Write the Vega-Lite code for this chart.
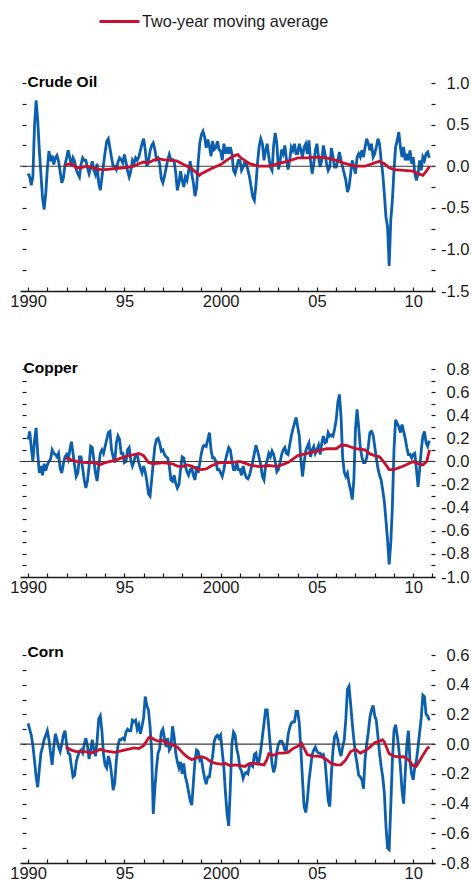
{
"$schema":"https://vega.github.io/schema/vega-lite/v6.json",
"background":"white",
"padding":{"left":9,"top":0,"right":4,"bottom":4},
"bounds":"flush",
"spacing":78,
"config":{"view":{"stroke":null},"font":"Liberation Sans","axis":{"labelFont":"Liberation Sans","labelFontSize":16.5,"labelColor":"#1a1a1a","tickColor":"#1a1a1a","domainColor":"#1a1a1a","grid":false,"title":null,"labelOverlap":false,"labelFlush":false}},
"datasets":{
"m":[
{"t":1990,"o":-0.09,"c":0.19,"n":0.14},{"t":1990.083,"o":-0.13,"c":0.26,"n":0.1},{"t":1990.167,"o":-0.23,"c":0.12,"n":0.06},{"t":1990.25,"o":-0.12,"c":0,"n":-0.01},{"t":1990.333,"o":0.48,"c":0.18,"n":-0.11},{"t":1990.417,"o":0.79,"c":0.29,"n":-0.22},{"t":1990.5,"o":0.55,"c":0.07,"n":-0.29},{"t":1990.583,"o":0.2,"c":-0.1,"n":-0.17},{"t":1990.667,"o":-0.1,"c":-0.04,"n":-0.06},{"t":1990.75,"o":-0.38,"c":-0.12,"n":-0.02},{"t":1990.833,"o":-0.52,"c":-0.02,"n":0.03},{"t":1990.917,"o":-0.33,"c":-0.08,"n":0.06},
{"t":1991,"o":-0.03,"c":-0.03,"n":0.09},{"t":1991.083,"o":0.18,"c":0,"n":0.03},{"t":1991.167,"o":0.06,"c":0.02,"n":-0.06},{"t":1991.25,"o":0.13,"c":0.1,"n":-0.14},{"t":1991.333,"o":0.02,"c":0.07,"n":-0.02},{"t":1991.417,"o":0.1,"c":0.06,"n":0.07},{"t":1991.5,"o":0.13,"c":0.04,"n":0.03},{"t":1991.583,"o":0.06,"c":0.07,"n":-0.02},{"t":1991.667,"o":-0.07,"c":-0.06,"n":-0.05},{"t":1991.75,"o":-0.2,"c":-0.1,"n":0},{"t":1991.833,"o":-0.14,"c":-0.02,"n":0.06},{"t":1991.917,"o":0.02,"c":0.04,"n":0.09},
{"t":1992,"o":0.1,"c":0.06,"n":0},{"t":1992.083,"o":0.19,"c":0.02,"n":-0.06},{"t":1992.167,"o":0.1,"c":0.1,"n":-0.07},{"t":1992.25,"o":0,"c":0.17,"n":-0.15},{"t":1992.333,"o":0.1,"c":0.07,"n":-0.22},{"t":1992.417,"o":0.06,"c":-0.04,"n":-0.21},{"t":1992.5,"o":-0.04,"c":-0.13,"n":-0.12},{"t":1992.583,"o":-0.09,"c":-0.1,"n":-0.08},{"t":1992.667,"o":-0.13,"c":0.04,"n":-0.05},{"t":1992.75,"o":0.02,"c":0.04,"n":-0.04},{"t":1992.833,"o":0.1,"c":-0.06,"n":-0.06},{"t":1992.917,"o":0.07,"c":-0.16,"n":0},
{"t":1993,"o":0.07,"c":-0.23,"n":0.04},{"t":1993.083,"o":-0.02,"c":-0.17,"n":-0.01},{"t":1993.167,"o":-0.09,"c":-0.04,"n":-0.1},{"t":1993.25,"o":-0.02,"c":0.13,"n":-0.04},{"t":1993.333,"o":0.06,"c":0.12,"n":0.03},{"t":1993.417,"o":-0.05,"c":0.01,"n":-0.04},{"t":1993.5,"o":-0.1,"c":-0.1,"n":-0.08},{"t":1993.583,"o":0.03,"c":-0.17,"n":0.02},{"t":1993.667,"o":-0.2,"c":-0.04,"n":0.17},{"t":1993.75,"o":-0.29,"c":0.07,"n":0.19},{"t":1993.833,"o":-0.14,"c":0.1,"n":0.09},{"t":1993.917,"o":0.02,"c":0.07,"n":-0.07},
{"t":1994,"o":0.17,"c":0.13,"n":-0.14},{"t":1994.083,"o":0.3,"c":0.19,"n":-0.16},{"t":1994.167,"o":0.33,"c":0.25,"n":-0.08},{"t":1994.25,"o":0.22,"c":0.26,"n":-0.12},{"t":1994.333,"o":0.1,"c":0.1,"n":-0.2},{"t":1994.417,"o":0,"c":0.04,"n":-0.31},{"t":1994.5,"o":0,"c":-0.01,"n":-0.26},{"t":1994.583,"o":-0.04,"c":0.16,"n":-0.11},{"t":1994.667,"o":0.05,"c":0.22,"n":-0.01},{"t":1994.75,"o":0.1,"c":0.19,"n":0.03},{"t":1994.833,"o":0.08,"c":0.07,"n":0.03},{"t":1994.917,"o":0.04,"c":0.07,"n":0.04},
{"t":1995,"o":0.14,"c":-0.01,"n":0.03},{"t":1995.083,"o":0.05,"c":0,"n":0.08},{"t":1995.167,"o":-0.06,"c":0.1,"n":0.1},{"t":1995.25,"o":-0.13,"c":0.12,"n":0.09},{"t":1995.333,"o":-0.06,"c":0.01,"n":0.09},{"t":1995.417,"o":0.07,"c":-0.04,"n":0.16},{"t":1995.5,"o":0.03,"c":0,"n":0.15},{"t":1995.583,"o":0.1,"c":0.06,"n":0.16},{"t":1995.667,"o":0.07,"c":0.06,"n":0.1},{"t":1995.75,"o":0.11,"c":-0.01,"n":0.13},{"t":1995.833,"o":0.19,"c":-0.06,"n":0.07},{"t":1995.917,"o":0.27,"c":-0.1,"n":0.12},
{"t":1996,"o":0.33,"c":-0.04,"n":0.18},{"t":1996.083,"o":0.2,"c":-0.09,"n":0.32},{"t":1996.167,"o":0,"c":-0.17,"n":0.26},{"t":1996.25,"o":0.06,"c":-0.28,"n":0.23},{"t":1996.333,"o":0.18,"c":-0.3,"n":0.12},{"t":1996.417,"o":0.25,"c":-0.16,"n":-0.05},{"t":1996.5,"o":0.28,"c":-0.01,"n":-0.47},{"t":1996.583,"o":0.2,"c":0.13,"n":-0.3},{"t":1996.667,"o":0.08,"c":0.19,"n":-0.16},{"t":1996.75,"o":0.1,"c":0.2,"n":-0.06},{"t":1996.833,"o":0.03,"c":0.16,"n":-0.03},{"t":1996.917,"o":-0.15,"c":0.09,"n":0.08},
{"t":1997,"o":-0.2,"c":0.1,"n":0.1},{"t":1997.083,"o":-0.12,"c":0.06,"n":0.04},{"t":1997.167,"o":-0.02,"c":0.04,"n":-0.02},{"t":1997.25,"o":0.07,"c":0.03,"n":0.04},{"t":1997.333,"o":0.14,"c":-0.04,"n":-0.04},{"t":1997.417,"o":0.07,"c":-0.16,"n":-0.02},{"t":1997.5,"o":0.08,"c":-0.17,"n":0.12},{"t":1997.583,"o":0.06,"c":-0.12,"n":0.05},{"t":1997.667,"o":-0.08,"c":-0.19,"n":-0.06},{"t":1997.75,"o":-0.29,"c":-0.23,"n":-0.12},{"t":1997.833,"o":-0.2,"c":-0.2,"n":-0.16},{"t":1997.917,"o":-0.06,"c":-0.07,"n":-0.12},
{"t":1998,"o":-0.17,"c":0.04,"n":-0.2},{"t":1998.083,"o":-0.25,"c":0.03,"n":-0.13},{"t":1998.167,"o":-0.13,"c":-0.04,"n":-0.22},{"t":1998.25,"o":-0.17,"c":-0.09,"n":-0.26},{"t":1998.333,"o":-0.06,"c":-0.12,"n":-0.32},{"t":1998.417,"o":0.06,"c":-0.07,"n":-0.38},{"t":1998.5,"o":-0.09,"c":-0.06,"n":-0.41},{"t":1998.583,"o":-0.2,"c":-0.12,"n":-0.26},{"t":1998.667,"o":-0.36,"c":-0.16,"n":-0.11},{"t":1998.75,"o":-0.26,"c":-0.04,"n":-0.04},{"t":1998.833,"o":0.05,"c":-0.1,"n":-0.05},{"t":1998.917,"o":0.28,"c":-0.01,"n":-0.11},
{"t":1999,"o":0.38,"c":0.07,"n":-0.1},{"t":1999.083,"o":0.42,"c":0.13,"n":-0.17},{"t":1999.167,"o":0.35,"c":0.14,"n":-0.23},{"t":1999.25,"o":0.22,"c":0.13,"n":-0.27},{"t":1999.333,"o":0.32,"c":0.19,"n":-0.22},{"t":1999.417,"o":0.24,"c":0.25,"n":-0.22},{"t":1999.5,"o":0.12,"c":0.1,"n":-0.14},{"t":1999.583,"o":0.3,"c":0.03,"n":-0.08},{"t":1999.667,"o":0.2,"c":0.03,"n":0.02},{"t":1999.75,"o":0.22,"c":0,"n":0.05},{"t":1999.833,"o":0.3,"c":-0.07,"n":0.06},{"t":1999.917,"o":0.2,"c":-0.07,"n":0.04},
{"t":2000,"o":0.18,"c":-0.1,"n":0.06},{"t":2000.083,"o":0.07,"c":-0.13,"n":-0.05},{"t":2000.167,"o":0.27,"c":-0.07,"n":-0.16},{"t":2000.25,"o":0.15,"c":0.01,"n":-0.33},{"t":2000.333,"o":0.23,"c":0.07,"n":-0.47},{"t":2000.417,"o":0.15,"c":0.12,"n":-0.55},{"t":2000.5,"o":0.23,"c":0.1,"n":-0.3},{"t":2000.583,"o":0.15,"c":0.01,"n":0},{"t":2000.667,"o":-0.05,"c":-0.07,"n":0.08},{"t":2000.75,"o":-0.09,"c":-0.07,"n":0.06},{"t":2000.833,"o":-0.01,"c":0,"n":-0.03},{"t":2000.917,"o":0.07,"c":-0.07,"n":-0.08},
{"t":2001,"o":0.07,"c":-0.07,"n":-0.16},{"t":2001.083,"o":-0.05,"c":-0.12,"n":-0.18},{"t":2001.167,"o":-0.01,"c":-0.04,"n":-0.23},{"t":2001.25,"o":0.05,"c":-0.1,"n":-0.2},{"t":2001.333,"o":0.03,"c":-0.14,"n":-0.19},{"t":2001.417,"o":-0.05,"c":-0.15,"n":-0.2},{"t":2001.5,"o":-0.13,"c":-0.12,"n":-0.14},{"t":2001.583,"o":-0.25,"c":-0.06,"n":-0.14},{"t":2001.667,"o":-0.37,"c":0,"n":-0.15},{"t":2001.75,"o":-0.41,"c":0.07,"n":-0.07},{"t":2001.833,"o":-0.22,"c":0.14,"n":-0.06},{"t":2001.917,"o":0.05,"c":0.09,"n":-0.14},
{"t":2002,"o":0.24,"c":0.03,"n":-0.11},{"t":2002.083,"o":0.33,"c":-0.03,"n":-0.04},{"t":2002.167,"o":0.27,"c":-0.13,"n":0.05},{"t":2002.25,"o":0.07,"c":-0.16,"n":0.14},{"t":2002.333,"o":0.19,"c":-0.04,"n":0.23},{"t":2002.417,"o":0.27,"c":0.01,"n":0.23},{"t":2002.5,"o":0.11,"c":0.07,"n":0.11},{"t":2002.583,"o":-0.01,"c":0.04,"n":-0.02},{"t":2002.667,"o":-0.05,"c":0.09,"n":-0.13},{"t":2002.75,"o":0.25,"c":0.06,"n":-0.19},{"t":2002.833,"o":0.4,"c":0,"n":-0.15},{"t":2002.917,"o":0.27,"c":-0.09,"n":-0.05},
{"t":2003,"o":-0.04,"c":-0.07,"n":0},{"t":2003.083,"o":0.05,"c":-0.01,"n":0.02},{"t":2003.167,"o":0.2,"c":0.06,"n":0.02},{"t":2003.25,"o":0.15,"c":0.1,"n":0},{"t":2003.333,"o":0.25,"c":0.12,"n":-0.04},{"t":2003.417,"o":0.08,"c":0.07,"n":-0.04},{"t":2003.5,"o":-0.04,"c":0.06,"n":0.06},{"t":2003.583,"o":0.07,"c":0.14,"n":0.11},{"t":2003.667,"o":0.23,"c":0.22,"n":0.14},{"t":2003.75,"o":0.19,"c":0.28,"n":0.15},{"t":2003.833,"o":0.27,"c":0.33,"n":0.15},{"t":2003.917,"o":0.15,"c":0.38,"n":0.22},
{"t":2004,"o":0.15,"c":0.3,"n":0.22},{"t":2004.083,"o":0.27,"c":0.22,"n":0.14},{"t":2004.167,"o":0.19,"c":0.01,"n":-0.04},{"t":2004.25,"o":0.11,"c":-0.13,"n":-0.24},{"t":2004.333,"o":0.23,"c":-0.01,"n":-0.42},{"t":2004.417,"o":0.27,"c":0.09,"n":-0.46},{"t":2004.5,"o":0.15,"c":0.13,"n":-0.38},{"t":2004.583,"o":0.31,"c":0.16,"n":-0.25},{"t":2004.667,"o":0.07,"c":0.04,"n":-0.16},{"t":2004.75,"o":-0.09,"c":0.1,"n":-0.07},{"t":2004.833,"o":0.03,"c":0.13,"n":-0.04},{"t":2004.917,"o":0.19,"c":0.07,"n":-0.02},
{"t":2005,"o":0.27,"c":0.1,"n":-0.05},{"t":2005.083,"o":0.11,"c":0.14,"n":-0.06},{"t":2005.167,"o":-0.01,"c":0.06,"n":-0.06},{"t":2005.25,"o":0.07,"c":0.16,"n":-0.08},{"t":2005.333,"o":0.25,"c":0.22,"n":-0.07},{"t":2005.417,"o":0.15,"c":0.16,"n":-0.11},{"t":2005.5,"o":0.03,"c":0.17,"n":-0.24},{"t":2005.583,"o":-0.05,"c":0.25,"n":-0.38},{"t":2005.667,"o":-0.01,"c":0.22,"n":-0.42},{"t":2005.75,"o":0.22,"c":0.23,"n":-0.2},{"t":2005.833,"o":0.11,"c":0.22,"n":-0.04},{"t":2005.917,"o":-0.01,"c":0.28,"n":0.05},
{"t":2006,"o":-0.01,"c":0.36,"n":0.07},{"t":2006.083,"o":0.07,"c":0.51,"n":0.03},{"t":2006.167,"o":0.17,"c":0.58,"n":-0.04},{"t":2006.25,"o":0.07,"c":0.39,"n":-0.08},{"t":2006.333,"o":-0.01,"c":0.04,"n":-0.02},{"t":2006.417,"o":-0.09,"c":-0.09,"n":0.03},{"t":2006.5,"o":-0.17,"c":-0.13,"n":0.17},{"t":2006.583,"o":-0.31,"c":-0.1,"n":0.37},{"t":2006.667,"o":-0.25,"c":-0.19,"n":0.39},{"t":2006.75,"o":-0.09,"c":-0.25,"n":0.27},{"t":2006.833,"o":0.07,"c":-0.33,"n":0.14},{"t":2006.917,"o":-0.01,"c":-0.16,"n":0.03},
{"t":2007,"o":-0.09,"c":0.28,"n":-0.07},{"t":2007.083,"o":0.11,"c":0.45,"n":-0.13},{"t":2007.167,"o":0.15,"c":0.3,"n":-0.21},{"t":2007.25,"o":0.11,"c":0.12,"n":-0.22},{"t":2007.333,"o":0.19,"c":0.04,"n":-0.24},{"t":2007.417,"o":0.11,"c":-0.01,"n":-0.3},{"t":2007.5,"o":0.23,"c":-0.01,"n":-0.1},{"t":2007.583,"o":0.33,"c":0.03,"n":0},{"t":2007.667,"o":0.27,"c":0.13,"n":0.08},{"t":2007.75,"o":0.19,"c":0.25,"n":0.18},{"t":2007.833,"o":0.27,"c":0.26,"n":0.23},{"t":2007.917,"o":0.11,"c":0.23,"n":0.26},
{"t":2008,"o":0.15,"c":0.13,"n":0.19},{"t":2008.083,"o":0.23,"c":0.03,"n":0.16},{"t":2008.167,"o":0.33,"c":-0.06,"n":0.05},{"t":2008.25,"o":0.27,"c":-0.12,"n":-0.06},{"t":2008.333,"o":0.07,"c":-0.16,"n":-0.15},{"t":2008.417,"o":-0.09,"c":-0.25,"n":-0.22},{"t":2008.5,"o":-0.33,"c":-0.35,"n":-0.33},{"t":2008.583,"o":-0.61,"c":-0.51,"n":-0.55},{"t":2008.667,"o":-0.73,"c":-0.68,"n":-0.7},{"t":2008.75,"o":-1.2,"c":-0.89,"n":-0.71},{"t":2008.833,"o":-0.65,"c":-0.71,"n":-0.42},{"t":2008.917,"o":-0.41,"c":-0.39,"n":-0.11},
{"t":2009,"o":-0.05,"c":0.1,"n":0.09},{"t":2009.083,"o":0.23,"c":0.36,"n":0.13},{"t":2009.167,"o":0.31,"c":0.33,"n":0.06},{"t":2009.25,"o":0.41,"c":0.3,"n":-0.03},{"t":2009.333,"o":0.23,"c":0.25,"n":-0.15},{"t":2009.417,"o":0.11,"c":0.32,"n":-0.31},{"t":2009.5,"o":0.23,"c":0.26,"n":-0.4},{"t":2009.583,"o":0.07,"c":0.2,"n":-0.2},{"t":2009.667,"o":0.15,"c":0.12,"n":0},{"t":2009.75,"o":0.07,"c":0.06,"n":0.09},{"t":2009.833,"o":0.19,"c":0.06,"n":-0.12},{"t":2009.917,"o":0.03,"c":0.03,"n":-0.2},
{"t":2010,"o":0.11,"c":0.06,"n":-0.24},{"t":2010.083,"o":-0.09,"c":0.07,"n":-0.15},{"t":2010.167,"o":-0.17,"c":-0.07,"n":-0.11},{"t":2010.25,"o":-0.09,"c":-0.22,"n":-0.02},{"t":2010.333,"o":0.07,"c":-0.07,"n":0.08},{"t":2010.417,"o":-0.05,"c":0.1,"n":0.18},{"t":2010.5,"o":0.11,"c":0.22,"n":0.33},{"t":2010.583,"o":0.07,"c":0.26,"n":0.32},{"t":2010.667,"o":0.15,"c":0.16,"n":0.2},{"t":2010.75,"o":0.17,"c":0.13,"n":0.19},{"t":2010.833,"o":0.1,"c":0.18,"n":0.16}
],
"ma":[
{"s":"o","t":1991.95,"v":0},{"s":"o","t":1992,"v":0.02},{"s":"o","t":1992.25,"v":0.03},{"s":"o","t":1992.5,"v":-0.02},{"s":"o","t":1992.75,"v":-0.02},{"s":"o","t":1993,"v":0},{"s":"o","t":1993.25,"v":-0.01},{"s":"o","t":1993.5,"v":-0.03},{"s":"o","t":1993.75,"v":-0.04},{"s":"o","t":1994,"v":-0.04},{"s":"o","t":1994.5,"v":-0.03},{"s":"o","t":1995,"v":-0.02},{"s":"o","t":1995.5,"v":0},{"s":"o","t":1995.75,"v":0.03},{"s":"o","t":1996,"v":0.05},{"s":"o","t":1996.25,"v":0.04},{"s":"o","t":1996.5,"v":0.07},{"s":"o","t":1996.75,"v":0.09},{"s":"o","t":1997,"v":0.08},{"s":"o","t":1997.5,"v":0.07},{"s":"o","t":1997.75,"v":0.06},{"s":"o","t":1998,"v":0.03},{"s":"o","t":1998.5,"v":-0.03},{"s":"o","t":1998.75,"v":-0.08},{"s":"o","t":1998.9,"v":-0.11},{"s":"o","t":1999,"v":-0.09},{"s":"o","t":1999.5,"v":-0.03},{"s":"o","t":2000,"v":0.02},{"s":"o","t":2000.25,"v":0.06},{"s":"o","t":2000.5,"v":0.1},{"s":"o","t":2000.75,"v":0.13},{"s":"o","t":2000.9,"v":0.14},{"s":"o","t":2001,"v":0.11},{"s":"o","t":2001.5,"v":0.03},{"s":"o","t":2002,"v":0},{"s":"o","t":2002.5,"v":0},{"s":"o","t":2003,"v":0.03},{"s":"o","t":2003.5,"v":0.06},{"s":"o","t":2004,"v":0.1},{"s":"o","t":2004.5,"v":0.1},{"s":"o","t":2005,"v":0.11},{"s":"o","t":2005.5,"v":0.1},{"s":"o","t":2006,"v":0.07},{"s":"o","t":2006.5,"v":0.03},{"s":"o","t":2007,"v":0},{"s":"o","t":2007.5,"v":0},{"s":"o","t":2008,"v":0.04},{"s":"o","t":2008.25,"v":0.06},{"s":"o","t":2008.5,"v":0.03},{"s":"o","t":2008.75,"v":-0.02},{"s":"o","t":2009,"v":-0.04},{"s":"o","t":2009.5,"v":-0.05},{"s":"o","t":2010,"v":-0.06},{"s":"o","t":2010.25,"v":-0.09},{"s":"o","t":2010.5,"v":-0.11},{"s":"o","t":2010.65,"v":-0.07},{"s":"o","t":2010.85,"v":0},
{"s":"c","t":1991.95,"v":0.03},{"s":"c","t":1992.5,"v":0},{"s":"c","t":1993,"v":-0.01},{"s":"c","t":1993.5,"v":-0.01},{"s":"c","t":1993.7,"v":-0.03},{"s":"c","t":1994,"v":-0.01},{"s":"c","t":1994.5,"v":0.01},{"s":"c","t":1995,"v":0.04},{"s":"c","t":1995.5,"v":0.06},{"s":"c","t":1995.75,"v":0.07},{"s":"c","t":1996,"v":0.05},{"s":"c","t":1996.25,"v":-0.01},{"s":"c","t":1996.5,"v":-0.02},{"s":"c","t":1997,"v":-0.01},{"s":"c","t":1997.5,"v":-0.02},{"s":"c","t":1997.75,"v":-0.04},{"s":"c","t":1998,"v":-0.045},{"s":"c","t":1998.25,"v":-0.03},{"s":"c","t":1998.5,"v":-0.04},{"s":"c","t":1998.75,"v":-0.065},{"s":"c","t":1999,"v":-0.07},{"s":"c","t":1999.25,"v":-0.065},{"s":"c","t":1999.5,"v":-0.04},{"s":"c","t":1999.75,"v":-0.02},{"s":"c","t":2000,"v":-0.01},{"s":"c","t":2000.5,"v":-0.01},{"s":"c","t":2001,"v":0},{"s":"c","t":2001.5,"v":-0.03},{"s":"c","t":2002,"v":-0.045},{"s":"c","t":2002.5,"v":-0.035},{"s":"c","t":2002.75,"v":-0.04},{"s":"c","t":2003,"v":-0.04},{"s":"c","t":2003.5,"v":-0.01},{"s":"c","t":2004,"v":0.05},{"s":"c","t":2004.5,"v":0.07},{"s":"c","t":2005,"v":0.09},{"s":"c","t":2005.5,"v":0.11},{"s":"c","t":2006,"v":0.11},{"s":"c","t":2006.25,"v":0.14},{"s":"c","t":2006.5,"v":0.14},{"s":"c","t":2007,"v":0.11},{"s":"c","t":2007.5,"v":0.1},{"s":"c","t":2007.75,"v":0.065},{"s":"c","t":2008,"v":0.05},{"s":"c","t":2008.25,"v":0.04},{"s":"c","t":2008.5,"v":-0.01},{"s":"c","t":2008.75,"v":-0.07},{"s":"c","t":2009,"v":-0.07},{"s":"c","t":2009.5,"v":-0.04},{"s":"c","t":2010,"v":0},{"s":"c","t":2010.25,"v":-0.02},{"s":"c","t":2010.5,"v":-0.03},{"s":"c","t":2010.7,"v":0},{"s":"c","t":2010.85,"v":0.1},
{"s":"n","t":1991.96,"v":-0.02},{"s":"n","t":1992.25,"v":-0.04},{"s":"n","t":1992.5,"v":-0.05},{"s":"n","t":1993,"v":-0.05},{"s":"n","t":1993.25,"v":-0.06},{"s":"n","t":1993.5,"v":-0.05},{"s":"n","t":1993.75,"v":-0.035},{"s":"n","t":1994,"v":-0.045},{"s":"n","t":1994.5,"v":-0.055},{"s":"n","t":1995,"v":-0.04},{"s":"n","t":1995.5,"v":-0.025},{"s":"n","t":1995.75,"v":-0.03},{"s":"n","t":1996,"v":-0.01},{"s":"n","t":1996.25,"v":0.04},{"s":"n","t":1996.33,"v":0.05},{"s":"n","t":1996.5,"v":0.035},{"s":"n","t":1996.75,"v":0.02},{"s":"n","t":1997,"v":0.025},{"s":"n","t":1997.25,"v":0.005},{"s":"n","t":1997.5,"v":-0.005},{"s":"n","t":1997.75,"v":-0.02},{"s":"n","t":1998,"v":-0.055},{"s":"n","t":1998.25,"v":-0.085},{"s":"n","t":1998.5,"v":-0.105},{"s":"n","t":1998.75,"v":-0.09},{"s":"n","t":1999,"v":-0.085},{"s":"n","t":1999.25,"v":-0.095},{"s":"n","t":1999.5,"v":-0.12},{"s":"n","t":1999.75,"v":-0.13},{"s":"n","t":2000,"v":-0.135},{"s":"n","t":2000.25,"v":-0.13},{"s":"n","t":2000.5,"v":-0.145},{"s":"n","t":2000.75,"v":-0.14},{"s":"n","t":2001,"v":-0.145},{"s":"n","t":2001.25,"v":-0.15},{"s":"n","t":2001.5,"v":-0.13},{"s":"n","t":2001.75,"v":-0.13},{"s":"n","t":2002,"v":-0.135},{"s":"n","t":2002.25,"v":-0.14},{"s":"n","t":2002.4,"v":-0.105},{"s":"n","t":2002.5,"v":-0.065},{"s":"n","t":2002.75,"v":-0.075},{"s":"n","t":2003,"v":-0.06},{"s":"n","t":2003.25,"v":-0.06},{"s":"n","t":2003.5,"v":-0.055},{"s":"n","t":2003.75,"v":-0.03},{"s":"n","t":2004,"v":-0.015},{"s":"n","t":2004.2,"v":0.005},{"s":"n","t":2004.5,"v":-0.07},{"s":"n","t":2004.75,"v":-0.08},{"s":"n","t":2005,"v":-0.08},{"s":"n","t":2005.25,"v":-0.085},{"s":"n","t":2005.5,"v":-0.105},{"s":"n","t":2005.75,"v":-0.13},{"s":"n","t":2006,"v":-0.14},{"s":"n","t":2006.25,"v":-0.14},{"s":"n","t":2006.5,"v":-0.105},{"s":"n","t":2006.75,"v":-0.05},{"s":"n","t":2007,"v":-0.035},{"s":"n","t":2007.25,"v":-0.06},{"s":"n","t":2007.5,"v":-0.045},{"s":"n","t":2007.75,"v":-0.02},{"s":"n","t":2008,"v":0.01},{"s":"n","t":2008.25,"v":0.02},{"s":"n","t":2008.4,"v":0.03},{"s":"n","t":2008.5,"v":0.015},{"s":"n","t":2008.75,"v":-0.065},{"s":"n","t":2009,"v":-0.08},{"s":"n","t":2009.25,"v":-0.085},{"s":"n","t":2009.5,"v":-0.085},{"s":"n","t":2009.75,"v":-0.105},{"s":"n","t":2010,"v":-0.145},{"s":"n","t":2010.15,"v":-0.15},{"s":"n","t":2010.25,"v":-0.13},{"s":"n","t":2010.5,"v":-0.075},{"s":"n","t":2010.75,"v":-0.025},{"s":"n","t":2010.85,"v":-0.02}
]
},
"vconcat":[
{
"width":415,"height":208,
"title":{"text":"Crude Oil","anchor":"start","frame":"group","orient":"top","offset":-22,"dx":7.5,"baseline":"middle","font":"Liberation Sans","fontSize":15.5,"fontWeight":"bold","color":"#000"},
"resolve":{"axis":{"y":"independent"}},
"layer":[
{"data":{"name":"m"},"mark":{"type":"line","color":"#0b5fad","strokeWidth":2.8},
"encoding":{
"x":{"field":"t","type":"quantitative","scale":{"domain":[1989.58,2011.13],"nice":false,"zero":false},"axis":{"orient":"bottom","values":[1990,1991,1992,1993,1994,1995,1996,1997,1998,1999,2000,2001,2002,2003,2004,2005,2006,2007,2008,2009,2010,2011],"labelExpr":"datum.value == 1990 ? '1990' : datum.value == 1995 ? '95' : datum.value == 2000 ? '2000' : datum.value == 2005 ? '05' : datum.value == 2010 ? '10' : ''","labelOverlap":false,"labelFlush":false,"labelBound":false,"tickSize":-4,"tickWidth":1.2,"domainWidth":1.5,"labelPadding":6}},
"y":{"field":"o","type":"quantitative","scale":{"domain":[-1.5,1],"nice":false,"zero":false},"axis":{"orient":"left","values":[-1.5,-1.25,-1,-0.75,-0.5,-0.25,0,0.25,0.5,0.75,1],"labels":false,"domain":false,"tickSize":4,"tickWidth":1.2,"offset":-6}}}},
{"data":{"values":[{}]},"mark":{"type":"rule","color":"#3a3a3a","strokeWidth":1.1},"encoding":{"y":{"datum":0,"type":"quantitative","axis":null}}},
{"data":{"name":"ma"},"transform":[{"filter":"datum.s == 'o'"}],"mark":{"type":"line","strokeWidth":2.8},
"encoding":{
"x":{"field":"t","type":"quantitative","axis":{"orient":"bottom","values":[1990,1991,1992,1993,1994,1995,1996,1997,1998,1999,2000,2001,2002,2003,2004,2005,2006,2007,2008,2009,2010,2011],"labelExpr":"datum.value == 1990 ? '1990' : datum.value == 1995 ? '95' : datum.value == 2000 ? '2000' : datum.value == 2005 ? '05' : datum.value == 2010 ? '10' : ''","labelOverlap":false,"labelFlush":false,"labelBound":false,"tickSize":-4,"tickWidth":1.2,"domainWidth":1.5,"labelPadding":6}},
"y":{"field":"v","type":"quantitative","axis":{"orient":"right","values":[-1.5,-1.25,-1,-0.75,-0.5,-0.25,0,0.25,0.5,0.75,1],"domain":false,"tickSize":4,"tickWidth":1.2,"offset":-4,"labelAlign":"right","labelBaseline":"middle","labelPadding":34,"labelOverlap":false,"labelExpr":"abs(datum.value*2 - round(datum.value*2)) < 0.01 ? (datum.value < 0 ? '-' : '') + format(abs(datum.value), '.1f') : ''"}},
"color":{"datum":"Two-year moving average","scale":{"range":["#c8102e"]},"legend":{"orient":"none","legendX":78,"legendY":-83,"title":null,"symbolType":"stroke","symbolSize":1600,"symbolStrokeWidth":3,"labelFont":"Liberation Sans","labelFontSize":16.2,"labelLimit":400,"labelColor":"#1a1a1a","labelOffset":1}}}}
]
},
{
"width":415,"height":208,
"title":{"text":"Copper","anchor":"start","frame":"group","orient":"top","offset":-22,"dx":3.5,"baseline":"middle","font":"Liberation Sans","fontSize":15.5,"fontWeight":"bold","color":"#000"},
"resolve":{"axis":{"y":"independent"}},
"layer":[
{"data":{"name":"m"},"mark":{"type":"line","color":"#0b5fad","strokeWidth":2.8},
"encoding":{
"x":{"field":"t","type":"quantitative","scale":{"domain":[1989.58,2011.13],"nice":false,"zero":false},"axis":{"orient":"bottom","values":[1990,1991,1992,1993,1994,1995,1996,1997,1998,1999,2000,2001,2002,2003,2004,2005,2006,2007,2008,2009,2010,2011],"labelExpr":"datum.value == 1990 ? '1990' : datum.value == 1995 ? '95' : datum.value == 2000 ? '2000' : datum.value == 2005 ? '05' : datum.value == 2010 ? '10' : ''","labelOverlap":false,"labelFlush":false,"labelBound":false,"tickSize":-4,"tickWidth":1.2,"domainWidth":1.5,"labelPadding":6}},
"y":{"field":"c","type":"quantitative","scale":{"domain":[-1,0.8],"nice":false,"zero":false},"axis":{"orient":"left","values":[-1,-0.9,-0.8,-0.7,-0.6,-0.5,-0.4,-0.3,-0.2,-0.1,0,0.1,0.2,0.3,0.4,0.5,0.6,0.7,0.8],"labels":false,"domain":false,"tickSize":4,"tickWidth":1.2,"offset":-6}}}},
{"data":{"values":[{}]},"mark":{"type":"rule","color":"#3a3a3a","strokeWidth":1.1},"encoding":{"y":{"datum":0,"type":"quantitative","axis":null}}},
{"data":{"name":"ma"},"transform":[{"filter":"datum.s == 'c'"}],"mark":{"type":"line","color":"#c8102e","strokeWidth":2.8},
"encoding":{
"x":{"field":"t","type":"quantitative","axis":{"orient":"bottom","values":[1990,1991,1992,1993,1994,1995,1996,1997,1998,1999,2000,2001,2002,2003,2004,2005,2006,2007,2008,2009,2010,2011],"labelExpr":"datum.value == 1990 ? '1990' : datum.value == 1995 ? '95' : datum.value == 2000 ? '2000' : datum.value == 2005 ? '05' : datum.value == 2010 ? '10' : ''","labelOverlap":false,"labelFlush":false,"labelBound":false,"tickSize":-4,"tickWidth":1.2,"domainWidth":1.5,"labelPadding":6}},
"y":{"field":"v","type":"quantitative","axis":{"orient":"right","values":[-1,-0.9,-0.8,-0.7,-0.6,-0.5,-0.4,-0.3,-0.2,-0.1,0,0.1,0.2,0.3,0.4,0.5,0.6,0.7,0.8],"domain":false,"tickSize":4,"tickWidth":1.2,"offset":-4,"labelAlign":"right","labelBaseline":"middle","labelPadding":34,"labelOverlap":false,"labelExpr":"abs(datum.value*5 - round(datum.value*5)) < 0.01 ? (datum.value < -0.001 ? '-' : '') + format(abs(datum.value), '.1f') : ''"}}}}
]
},
{
"width":415,"height":208,
"title":{"text":"Corn","anchor":"start","frame":"group","orient":"top","offset":-20,"dx":7.5,"baseline":"middle","font":"Liberation Sans","fontSize":15.5,"fontWeight":"bold","color":"#000"},
"resolve":{"axis":{"y":"independent"}},
"layer":[
{"data":{"name":"m"},"mark":{"type":"line","color":"#0b5fad","strokeWidth":2.8},
"encoding":{
"x":{"field":"t","type":"quantitative","scale":{"domain":[1989.58,2011.13],"nice":false,"zero":false},"axis":{"orient":"bottom","values":[1990,1991,1992,1993,1994,1995,1996,1997,1998,1999,2000,2001,2002,2003,2004,2005,2006,2007,2008,2009,2010,2011],"labelExpr":"datum.value == 1990 ? '1990' : datum.value == 1995 ? '95' : datum.value == 2000 ? '2000' : datum.value == 2005 ? '05' : datum.value == 2010 ? '10' : ''","labelOverlap":false,"labelFlush":false,"labelBound":false,"tickSize":-4,"tickWidth":1.2,"domainWidth":1.5,"labelPadding":6}},
"y":{"field":"n","type":"quantitative","scale":{"domain":[-0.8,0.6],"nice":false,"zero":false},"axis":{"orient":"left","values":[-0.8,-0.7,-0.6,-0.5,-0.4,-0.3,-0.2,-0.1,0,0.1,0.2,0.3,0.4,0.5,0.6],"labels":false,"domain":false,"tickSize":4,"tickWidth":1.2,"offset":-6}}}},
{"data":{"values":[{}]},"mark":{"type":"rule","color":"#3a3a3a","strokeWidth":1.1},"encoding":{"y":{"datum":0,"type":"quantitative","axis":null}}},
{"data":{"name":"ma"},"transform":[{"filter":"datum.s == 'n'"}],"mark":{"type":"line","color":"#c8102e","strokeWidth":2.8},
"encoding":{
"x":{"field":"t","type":"quantitative","axis":{"orient":"bottom","values":[1990,1991,1992,1993,1994,1995,1996,1997,1998,1999,2000,2001,2002,2003,2004,2005,2006,2007,2008,2009,2010,2011],"labelExpr":"datum.value == 1990 ? '1990' : datum.value == 1995 ? '95' : datum.value == 2000 ? '2000' : datum.value == 2005 ? '05' : datum.value == 2010 ? '10' : ''","labelOverlap":false,"labelFlush":false,"labelBound":false,"tickSize":-4,"tickWidth":1.2,"domainWidth":1.5,"labelPadding":6}},
"y":{"field":"v","type":"quantitative","axis":{"orient":"right","values":[-0.8,-0.7,-0.6,-0.5,-0.4,-0.3,-0.2,-0.1,0,0.1,0.2,0.3,0.4,0.5,0.6],"domain":false,"tickSize":4,"tickWidth":1.2,"offset":-4,"labelAlign":"right","labelBaseline":"middle","labelPadding":34,"labelOverlap":false,"labelExpr":"abs(datum.value*5 - round(datum.value*5)) < 0.01 ? (datum.value < -0.001 ? '-' : '') + format(abs(datum.value), '.1f') : ''"}}}}
]
}
]
}
